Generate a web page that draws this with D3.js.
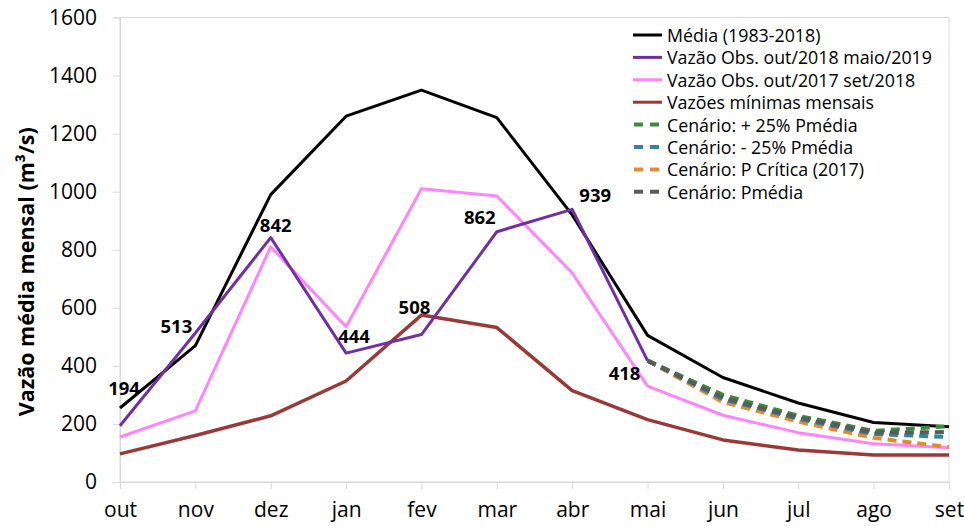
<!DOCTYPE html>
<html>
<head>
<meta charset="utf-8">
<script src="https://cdn.jsdelivr.net/npm/d3@7"></script>
<style>
  html, body { margin: 0; padding: 0; background: #fff; }
  svg { display: block; font-family: "Open Sans", "Noto Sans", sans-serif; }
</style>
</head>
<body>
<svg id="chart" width="964" height="526"></svg>
<script>
// Months of the hydrological year (Oct - Sep)
const months = ["out", "nov", "dez", "jan", "fev", "mar", "abr", "mai", "jun", "jul", "ago", "set"];

// Long-term mean monthly flow (1983-2018)
const media = [255, 470, 990, 1260, 1350, 1255, 920, 505, 360, 272, 205, 190];
// Observed flow Oct/2018 - May/2019
const obs2018 = [194, 513, 842, 444, 508, 862, 939, 418];
// Observed flow Oct/2017 - Sep/2018
const obs2017 = [155, 245, 810, 535, 1010, 985, 720, 330, 230, 170, 132, 118];
// Monthly minimum flows
const minimas = [97, 160, 228, 348, 575, 532, 315, 215, 145, 110, 93, 93];

// Scenarios, May - Sep
const cenMais25 = [418, 300, 228, 176, 192];
const cenMenos25 = [418, 285, 218, 165, 155];
const cenCritica = [418, 275, 208, 152, 120];
const cenMedia = [418, 290, 222, 170, 172];

const yTicks = [0, 200, 400, 600, 800, 1000, 1200, 1400, 1600];

const svg = d3.select("#chart");
const plotLeft = 120, plotRight = 949, plotTop = 17.5, plotBottom = 482;

const x = d3.scalePoint().domain(months).range([plotLeft, plotRight]).padding(0);
const y = d3.scaleLinear().domain([0, 1600]).range([plotBottom, plotTop]);

const gridColor = "#d9d9d9";

// plot frame
svg.append("rect")
  .attr("x", plotLeft).attr("y", plotTop)
  .attr("width", plotRight - plotLeft).attr("height", plotBottom - plotTop)
  .attr("fill", "none").attr("stroke", gridColor).attr("stroke-width", 1);

// y axis
const yAxis = svg.append("g")
  .attr("transform", `translate(${plotLeft},0)`)
  .call(d3.axisLeft(y).tickValues(yTicks).tickSize(7).tickPadding(16).tickFormat(d3.format("d")));
yAxis.select(".domain").attr("stroke", gridColor);
yAxis.selectAll(".tick line").attr("stroke", gridColor);
yAxis.selectAll(".tick text")
  .attr("font-size", 21).attr("fill", "#000")
  .attr("font-family", "'Open Sans', sans-serif");

// x axis
const xAxis = svg.append("g")
  .attr("transform", `translate(0,${plotBottom})`)
  .call(d3.axisBottom(x).tickSize(7).tickPadding(13));
xAxis.select(".domain").attr("stroke", gridColor);
xAxis.selectAll(".tick line").attr("stroke", gridColor);
xAxis.selectAll(".tick text")
  .attr("font-size", 21).attr("fill", "#000")
  .attr("font-family", "'Open Sans', sans-serif");

// y axis title
svg.append("text")
  .attr("transform", `translate(25,${(plotTop + plotBottom) / 2 + 22}) rotate(-90)`)
  .attr("text-anchor", "middle")
  .attr("dominant-baseline", "central")
  .attr("font-size", 21.5).attr("font-weight", "bold")
  .text("Vazão média mensal (m³/s)");

const line = d3.line().x(d => x(d.m)).y(d => y(d.v));
const toPts = (vals, start) => vals.map((v, i) => ({ m: months[start + i], v }));

const series = [
  { name: "Média (1983-2018)", vals: media, start: 0, color: "#000000", dash: null },
  { name: "Vazão Obs. out/2018 maio/2019", vals: obs2018, start: 0, color: "#7030a0", dash: null },
  { name: "Vazão Obs. out/2017 set/2018", vals: obs2017, start: 0, color: "#ff85ff", dash: null },
  { name: "Vazões mínimas mensais", vals: minimas, start: 0, color: "#983a37", dash: null },
  { name: "Cenário: + 25% Pmédia", vals: cenMais25, start: 7, color: "#3b8a40", dash: "9,6" },
  { name: "Cenário: - 25% Pmédia", vals: cenMenos25, start: 7, color: "#31859c", dash: "9,6" },
  { name: "Cenário: P Crítica (2017)", vals: cenCritica, start: 7, color: "#e8892c", dash: "9,6" },
  { name: "Cenário: Pmédia", vals: cenMedia, start: 7, color: "#5a5a5a", dash: "9,6" }
];

// draw order: solid lines, then scenarios with Pmédia on top
const drawOrder = [3, 2, 0, 1, 6, 5, 4, 7];
drawOrder.forEach(i => {
  const s = series[i];
  svg.append("path")
    .datum(toPts(s.vals, s.start))
    .attr("d", line)
    .attr("fill", "none")
    .attr("stroke", s.color)
    .attr("stroke-width", s.dash ? 4 : (i === 3 ? 3.5 : 3))
    .attr("stroke-dasharray", s.dash)
    .attr("stroke-linejoin", "round");
});

// value labels for the 2018/2019 observed series
const labelOffsets = [[4, -38], [-19, -8], [5, -13], [8, -18], [-7, -28], [-17, -15], [23, -15], [-23, 12]];
svg.append("g").selectAll("text")
  .data(toPts(obs2018, 0))
  .join("text")
  .attr("x", (d, i) => x(d.m) + labelOffsets[i][0])
  .attr("y", (d, i) => y(d.v) + labelOffsets[i][1])
  .attr("text-anchor", "middle")
  .attr("dominant-baseline", "central")
  .attr("font-size", 18.5).attr("font-weight", "bold")
  .text(d => d.v);

// legend
const leg = svg.append("g");
series.forEach((s, i) => {
  const cy = 35 + i * 22.4;
  leg.append("line")
    .attr("x1", s.dash ? 634 : 633).attr("x2", 662)
    .attr("y1", cy).attr("y2", cy)
    .attr("stroke", s.color)
    .attr("stroke-width", s.dash ? 4 : 3)
    .attr("stroke-dasharray", s.dash ? "9,7" : null);
  leg.append("text")
    .attr("x", 667).attr("y", cy)
    .attr("dominant-baseline", "central")
    .attr("font-size", 17.8)
    .text(s.name);
});
</script>
</body>
</html>
